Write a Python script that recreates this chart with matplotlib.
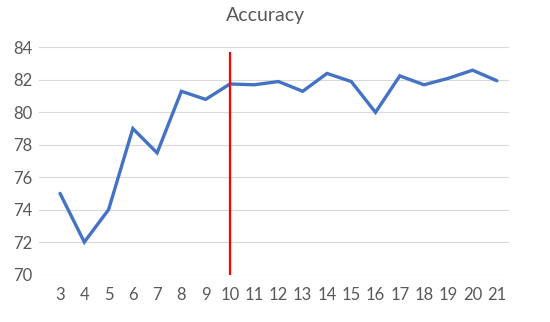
import matplotlib
matplotlib.use("Agg")
import matplotlib.pyplot as plt

# number of something (x categories) vs accuracy
x_labels = [3, 4, 5, 6, 7, 8, 9, 10, 11, 12, 13, 14, 15, 16, 17, 18, 19, 20, 21]
accuracy = [75.0, 72.0, 74.0, 79.0, 77.5, 81.3, 80.8, 81.75, 81.7, 81.9, 81.3,
            82.4, 81.9, 80.0, 82.25, 81.7, 82.1, 82.6, 81.95]
marker_x = 10
marker_top = 83.75

plt.rcParams['font.family'] = ['Lato', 'DejaVu Sans']

fig = plt.figure(figsize=(5.5, 3.22), dpi=100)
ax = fig.add_axes([0.071, 0.1475, 0.854, 0.705])

ax.plot(x_labels, accuracy, color='#4472C4', lw=2.4, solid_capstyle='round',
        solid_joinstyle='miter', zorder=3)
ax.vlines(marker_x, 70, marker_top, color='#FF0000', lw=1.6, zorder=4)

ax.set_xlim(x_labels[0] - 0.865, x_labels[-1] + 0.49)
ax.set_ylim(70, 84)
ax.set_yticks(range(70, 85, 2))
ax.set_xticks(x_labels)
ax.set_xticklabels([str(v) for v in x_labels])

ax.grid(axis='y', color='#D9D9D9', lw=0.8, zorder=0)
ax.set_axisbelow(True)
for s in ax.spines.values():
    s.set_visible(False)
ax.tick_params(length=0, colors='#595959', labelsize=12)
ax.tick_params(axis='x', pad=9)
ax.tick_params(axis='y', pad=5)

fig.text(0.482, 0.953, "Accuracy", fontsize=14, color='#595959',
         ha='center', va='center')

fig.savefig("out.png", dpi=100)
